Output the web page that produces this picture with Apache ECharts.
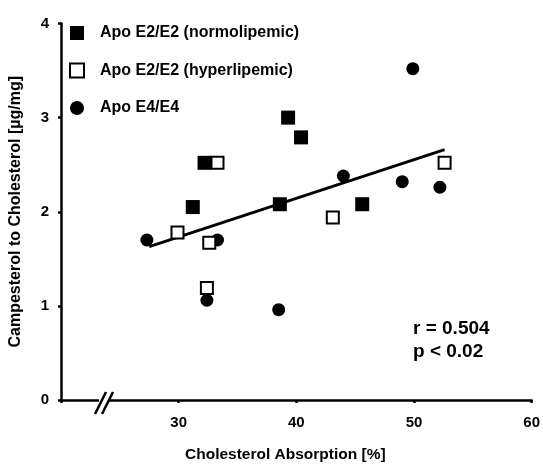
<!DOCTYPE html>
<html>
<head>
<meta charset="utf-8">
<script src="https://cdn.jsdelivr.net/npm/echarts@6/dist/echarts.min.js"></script>
<style>
  html, body { margin: 0; padding: 0; background: #fff; }
  #chart { width: 543px; height: 469px; }
</style>
</head>
<body>
<div id="chart"></div>
<script>
// values: [absorption %, campesterol µg/mg]
const normolipemic = [[31.2, 2.05], [32.2, 2.52], [39.3, 3.0], [40.4, 2.79], [38.6, 2.08], [45.6, 2.08]]
const hyperlipemic = [[29.9, 1.78], [33.3, 2.52], [32.6, 1.67], [32.4, 1.19], [43.1, 1.94], [52.6, 2.52]]
const apoE4 = [[27.3, 1.7], [33.3, 1.7], [32.4, 1.06], [38.5, 0.96], [44.0, 2.38], [49.0, 2.32], [52.2, 2.26], [49.9, 3.52]]
const fitLine = [[27.5, 1.63], [52.6, 2.66]]
const seriesNames = ['Apo E2/E2 (normolipemic)', 'Apo E2/E2 (hyperlipemic)', 'Apo E4/E4']
const statLines = ['r = 0.504', 'p < 0.02']

const font = 'Liberation Sans, Arial, sans-serif'
const chart = echarts.init(document.getElementById('chart'))

chart.setOption({
  animation: false,
  backgroundColor: '#fff',
  grid: { left: 59.5, right: 10.5, top: 23.5, bottom: 69, containLabel: false },
  title: {
    text: statLines.join('\n'),
    left: 413,
    top: 317,
    padding: 0,
    textStyle: { fontFamily: font, fontSize: 19, fontWeight: 'bold', color: '#000', lineHeight: 23 }
  },
  legend: {
    data: seriesNames,
    orient: 'vertical',
    left: 69,
    top: 25,
    padding: 0,
    itemWidth: 14,
    itemHeight: 14,
    itemGap: 21.5,
    textStyle: { fontFamily: font, fontSize: 16, fontWeight: 'bold', color: '#000', padding: [0, 0, 0, 11] }
  },
  xAxis: {
    type: 'value',
    min: 20,
    max: 60,
    interval: 10,
    name: 'Cholesterol Absorption [%]',
    nameLocation: 'middle',
    nameGap: 47,
    nameTextStyle: { fontFamily: font, fontSize: 15.5, fontWeight: 'bold', color: '#000', padding: [0, 22, 0, 0] },
    splitLine: { show: false },
    axisLine: { lineStyle: { color: '#000', width: 2.5 } },
    axisTick: { length: 3, lineStyle: { color: '#000', width: 2.5 } },
    axisLabel: {
      margin: 15,
      fontFamily: font, fontSize: 15, fontWeight: 'bold', color: '#000',
      formatter: v => (v === 20 ? '' : v)
    }
  },
  yAxis: {
    type: 'value',
    min: 0,
    max: 4,
    interval: 1,
    name: 'Campesterol to Cholesterol [µg/mg]',
    nameLocation: 'middle',
    nameGap: 37,
    nameTextStyle: { fontFamily: font, fontSize: 16, fontWeight: 'bold', color: '#000' },
    splitLine: { show: false },
    axisLine: { lineStyle: { color: '#000', width: 2.5 } },
    axisTick: { length: 3, lineStyle: { color: '#000', width: 2.5 } },
    axisLabel: { margin: 12, fontFamily: font, fontSize: 15, fontWeight: 'bold', color: '#000' }
  },
  graphic: [
    // axis break "//"
    { type: 'rect', shape: { x: 99, y: 396, width: 9, height: 8 }, style: { fill: '#fff' }, z: 100 },
    { type: 'line', shape: { x1: 95, y1: 414, x2: 106, y2: 392 }, style: { stroke: '#000', lineWidth: 2.5 }, z: 101 },
    { type: 'line', shape: { x1: 102, y1: 414, x2: 113, y2: 392 }, style: { stroke: '#000', lineWidth: 2.5 }, z: 101 }
  ],
  series: [
    {
      name: 'fit',
      type: 'line',
      data: fitLine,
      symbol: 'none',
      lineStyle: { color: '#000', width: 3 },
      z: 1
    },
    {
      name: seriesNames[0],
      type: 'scatter',
      data: normolipemic,
      symbol: 'rect',
      symbolSize: 14,
      itemStyle: { color: '#000', opacity: 1 },
      z: 3
    },
    {
      name: seriesNames[1],
      type: 'scatter',
      data: hyperlipemic,
      symbol: 'rect',
      symbolSize: 12,
      itemStyle: { color: '#fff', borderColor: '#000', borderWidth: 2, opacity: 1 },
      z: 4
    },
    {
      name: seriesNames[2],
      type: 'scatter',
      data: apoE4,
      symbol: 'circle',
      symbolSize: 13,
      itemStyle: { color: '#000', opacity: 1 },
      z: 2
    }
  ]
})
</script>
</body>
</html>
